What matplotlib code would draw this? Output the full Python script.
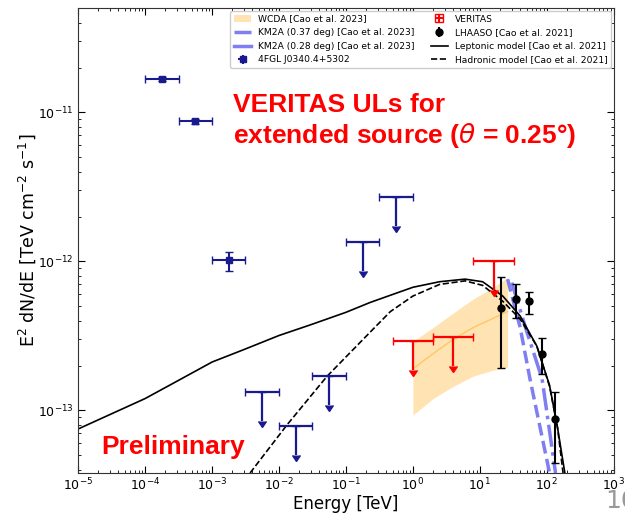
import numpy as np
import matplotlib
matplotlib.use("Agg")
import matplotlib.pyplot as plt
from matplotlib.patches import Patch
from matplotlib.lines import Line2D

# ---- Fermi 4FGL points ----
fgl_E = [1.78e-4, 5.6e-4, 1.78e-3]
fgl_Elo = [1.0e-4, 3.16e-4, 1.0e-3]
fgl_Ehi = [3.16e-4, 1.0e-3, 3.16e-3]
fgl_F = [1.68e-11, 0.87e-11, 1.02e-12]
fgl_Flo = [1.62e-11, 0.84e-11, 0.86e-12]
fgl_Fhi = [1.74e-11, 0.90e-11, 1.15e-12]

# ---- Fermi 4FGL upper limits ----
fglul_E = [5.6e-3, 1.78e-2, 5.6e-2, 1.78e-1, 5.6e-1]
fglul_Elo = [3.16e-3, 1.0e-2, 3.16e-2, 1.0e-1, 3.16e-1]
fglul_Ehi = [1.0e-2, 3.16e-2, 1.0e-1, 3.16e-1, 1.0]
fglul_F = [1.32e-13, 0.79e-13, 1.69e-13, 1.34e-12, 2.7e-12]

# ---- VERITAS upper limits ----
ver_E = [1.0, 4.0, 16.0]
ver_Elo = [0.5, 2.0, 8.0]
ver_Ehi = [2.0, 8.0, 32.0]
ver_F = [2.9e-13, 3.1e-13, 1.0e-12]

# ---- LHAASO points ----
lha_E = [21.0, 35.0, 54.0, 85.0, 132.0]
lha_F = [4.9e-13, 5.6e-13, 5.4e-13, 2.4e-13, 0.88e-13]
lha_Flo = [1.93e-13, 4.2e-13, 4.4e-13, 1.76e-13, 0.44e-13]
lha_Fhi = [7.9e-13, 7.0e-13, 6.2e-13, 3.07e-13, 1.32e-13]

# ---- WCDA band ----
wcda_E = [1.0, 2.0, 4.0, 8.0, 15.0, 26.0]
wcda_up = [2.9e-13, 3.6e-13, 4.5e-13, 5.6e-13, 6.6e-13, 7.8e-13]
wcda_lo = [0.93e-13, 1.2e-13, 1.45e-13, 1.7e-13, 1.85e-13, 1.95e-13]
wcda_mid = [1.9e-13, 2.4e-13, 3.0e-13, 3.6e-13, 4.1e-13, 4.6e-13]

# ---- KM2A lines ----
km37_E = [30.0, 50.0, 85.0, 135.0]
km37_F = [7.2e-13, 3.4e-13, 1.63e-13, 3.8e-14]
km28_E = [26.0, 40.0, 56.0, 110.0]
km28_F = [7.6e-13, 3.6e-13, 1.63e-13, 3.8e-14]

# ---- Models ----
lep_E = [1e-5, 1.0e-4, 3e-4, 1.0e-3, 3e-3, 1.0e-2, 3e-2, 1.0e-1, 0.23, 0.5, 1.0, 2.5,
         6.0, 11.0, 22.0, 40.0, 71.0, 110.0, 145.0, 186.0]
lep_F = [0.75e-13, 1.2e-13, 1.57e-13, 2.11e-13, 2.56e-13, 3.18e-13, 3.76e-13, 4.55e-13,
         5.3e-13, 6.0e-13, 6.7e-13, 7.3e-13, 7.6e-13, 7.3e-13, 5.85e-13, 4.3e-13, 2.7e-13,
         1.47e-13, 0.76e-13, 3.8e-14]
had_E = [3.7e-3, 1.32e-2, 5.2e-2, 0.23, 0.46, 1.0, 2.5, 6.0, 11.0, 22.0, 40.0, 71.0,
         110.0, 145.0, 175.0]
had_F = [3.8e-14, 0.8e-13, 1.69e-13, 3.35e-13, 4.6e-13, 5.85e-13, 7.0e-13, 7.4e-13,
         6.9e-13, 5.4e-13, 4.1e-13, 2.7e-13, 1.45e-13, 0.76e-13, 3.8e-14]

fig = plt.figure(figsize=(6.25, 5.13), dpi=100)
ax = fig.add_axes([0.125, 0.078, 0.857, 0.906])
ax.set_xscale('log')
ax.set_yscale('log')

navy = '#1a1a8f'
kmcol = '#7f7ff2'

# WCDA
ax.fill_between(wcda_E, wcda_lo, wcda_up, color='orange', alpha=0.3, lw=0)
ax.plot(wcda_E, wcda_mid, color='orange', alpha=0.45, lw=1)

# KM2A
ax.plot(km37_E, km37_F, color=kmcol, lw=2.5, ls='-.')
ax.plot(km28_E, km28_F, color=kmcol, lw=2.5, ls='--')

# Models
ax.plot(lep_E, lep_F, color='black', lw=1.2, ls='-')
ax.plot(had_E, had_F, color='black', lw=1.2, ls='--')

# 4FGL
E = np.array(fgl_E); F = np.array(fgl_F)
ax.errorbar(E, F, xerr=[E - np.array(fgl_Elo), np.array(fgl_Ehi) - E],
            yerr=[F - np.array(fgl_Flo), np.array(fgl_Fhi) - F],
            fmt='s', color=navy, ms=4.5, capsize=3, elinewidth=1.5, mec=navy, mfc=navy)
E = np.array(fglul_E); F = np.array(fglul_F)
ax.errorbar(E, F, xerr=[E - np.array(fglul_Elo), np.array(fglul_Ehi) - E],
            yerr=0.36 * F, uplims=True, fmt='none', color=navy, capsize=3, elinewidth=1.6)

# VERITAS
E = np.array(ver_E); F = np.array(ver_F)
ax.errorbar(E, F, xerr=[E - np.array(ver_Elo), np.array(ver_Ehi) - E],
            yerr=0.36 * F, uplims=True, fmt='none', color='red', capsize=3, elinewidth=1.6)

# LHAASO
E = np.array(lha_E); F = np.array(lha_F)
ax.errorbar(E, F, yerr=[F - np.array(lha_Flo), np.array(lha_Fhi) - F],
            fmt='o', color='black', ms=5, capsize=3, elinewidth=1.5)

ax.set_xlim(1e-5, 1e3)
ax.set_ylim(3.8e-14, 5e-11)
ax.tick_params(which='both', direction='in', top=True, right=True, labelsize=9, pad=3)
ax.tick_params(which='major', length=5)
ax.tick_params(which='minor', length=2.5)
for s in ax.spines.values():
    s.set_color('#333333')

ax.set_xlabel('Energy [TeV]', fontsize=12, labelpad=1)
ax.set_ylabel(r'E$^2$ dN/dE [TeV cm$^{-2}$ s$^{-1}$]', fontsize=12.5, labelpad=0)

# legend
h_wcda = Patch(facecolor='orange', alpha=0.3, edgecolor='none')
h_k37 = Line2D([], [], color=kmcol, lw=2.5, ls='-.')
h_k28 = Line2D([], [], color=kmcol, lw=2.5, ls='-')
h_fgl = ax.errorbar([], [], xerr=[], yerr=[], fmt='s', color=navy, ms=5, capsize=2)
h_ver = ax.errorbar([], [], xerr=[], yerr=[], fmt='s', color='red', mfc='none', ms=6, capsize=2)
h_lha = ax.errorbar([], [], yerr=[], fmt='o', color='black', ms=5, capsize=2)
h_lep = Line2D([], [], color='black', lw=1.2)
h_had = Line2D([], [], color='black', lw=1.2, ls='--')
handles = [h_wcda, h_k37, h_k28, h_fgl, h_ver, h_lha, h_lep, h_had]
labels = ['WCDA [Cao et al. 2023]', 'KM2A (0.37 deg) [Cao et al. 2023]',
          'KM2A (0.28 deg) [Cao et al. 2023]', '4FGL J0340.4+5302',
          'VERITAS', 'LHAASO [Cao et al. 2021]',
          'Leptonic model [Cao et al. 2021]', 'Hadronic model [Cao et al. 2021]']
ax.legend(handles, labels, ncol=2, loc='upper right', fontsize=6.6, columnspacing=1.8,
          handlelength=1.9, handletextpad=0.7, labelspacing=0.5, borderaxespad=0.3,
          framealpha=1)

ax.text(0.29, 0.756, 'VERITAS ULs for\nextended source ($\\theta$ = 0.25°)',
        transform=ax.transAxes, color='red', fontsize=19, fontweight='bold',
        family='Liberation Sans', va='center', ha='left', linespacing=1.2)
ax.text(0.043, 0.056, 'Preliminary', transform=ax.transAxes, color='red', fontsize=19,
        fontweight='bold', family='Liberation Sans', va='center', ha='left')

fig.text(0.968, 0.0, '10', color='#999999', fontsize=18, ha='left', va='bottom')

fig.savefig('out.png', dpi=100)
